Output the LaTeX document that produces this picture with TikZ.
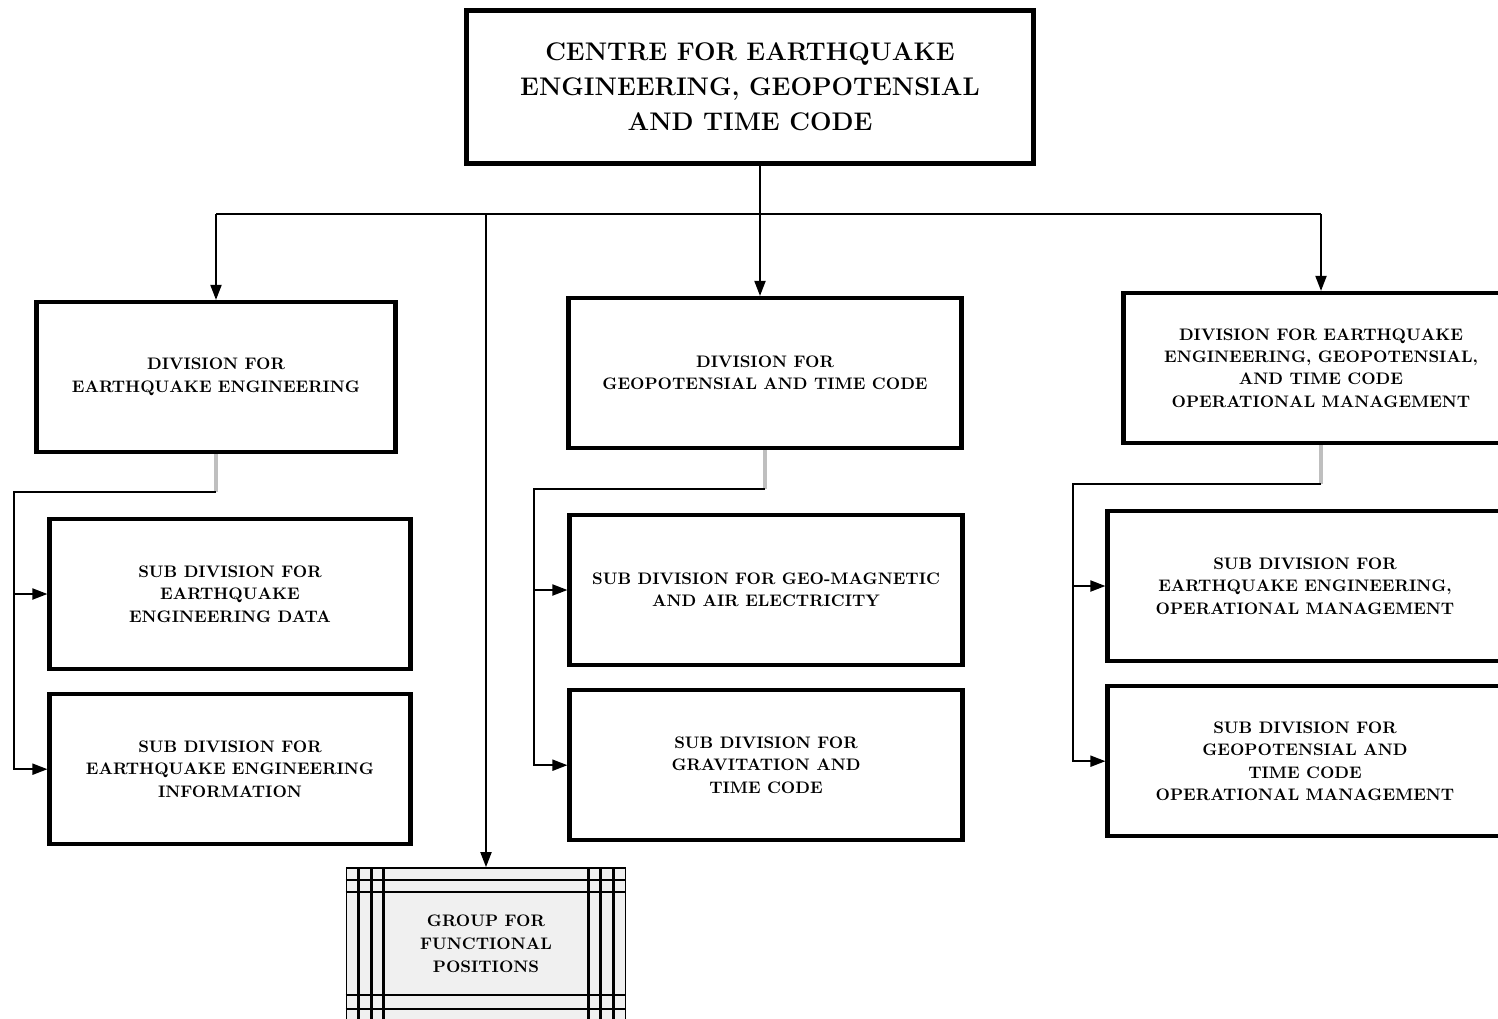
\documentclass[tikz,border=0pt]{standalone}
\usepackage{tikz}
\usetikzlibrary{calc,arrows.meta,positioning}

\begin{document}
\begin{tikzpicture}
			[x=0.02cm,y=-0.02cm,
			centre/.style={draw,line width=2.4pt,minimum width=11.34cm,minimum height=3.06cm,align=center,font=\fontsize{14.5}{20}\selectfont\bfseries},
			unit/.style={draw,line width=2.4pt,minimum height=3cm,align=center,font=\fontsize{9.5}{12.8}\selectfont\bfseries},
			group/.style={draw,line width=1pt,fill=gray!12,minimum width=5.58cm,minimum height=3.04cm,align=center,font=\fontsize{9.5}{13}\selectfont\bfseries},
			link/.style={line width=1.1pt},
			arr/.style={link,-{Triangle[length=0.3cm,width=0.22cm]}},
			stem/.style={line width=2pt,draw=gray!50},
			frame/.style={line width=1.4pt},
			]
			\useasboundingbox (0,0) rectangle (1498,1018);
			\clip (0,0) rectangle (1498,1018);
			% top and divisions
			\node (top) [centre] at (750,87) {CENTRE FOR EARTHQUAKE\\ENGINEERING, GEOPOTENSIAL\\AND TIME CODE};
			\node (d1) [unit,minimum width=7.18cm] at (216,377) {DIVISION FOR\\EARTHQUAKE ENGINEERING};
			\node (d2) [unit,minimum width=7.86cm] at (765,373) {DIVISION FOR\\GEOPOTENSIAL AND TIME CODE};
			\node (d3) [unit,minimum width=7.9cm] at (1321,368) {DIVISION FOR EARTHQUAKE\\ENGINEERING, GEOPOTENSIAL,\\AND TIME CODE\\OPERATIONAL MANAGEMENT};
			% sub divisions
			\node (s11) [unit,minimum width=7.22cm] at (230,594) {SUB DIVISION FOR\\EARTHQUAKE\\ENGINEERING DATA};
			\node (s12) [unit,minimum width=7.22cm,below=0.42cm of s11] {SUB DIVISION FOR\\EARTHQUAKE ENGINEERING\\INFORMATION};
			\node (s21) [unit,minimum width=7.86cm] at (766,590) {SUB DIVISION FOR GEO-MAGNETIC\\AND AIR ELECTRICITY};
			\node (s22) [unit,minimum width=7.86cm,below=0.42cm of s21] {SUB DIVISION FOR\\GRAVITATION AND\\TIME CODE};
			\node (s31) [unit,minimum width=7.9cm] at (1305,586) {SUB DIVISION FOR\\EARTHQUAKE ENGINEERING,\\OPERATIONAL MANAGEMENT};
			\node (s32) [unit,minimum width=7.9cm,below=0.42cm of s31] {SUB DIVISION FOR\\GEOPOTENSIAL AND\\TIME CODE\\OPERATIONAL MANAGEMENT};
			% group for functional positions
			\node (grp) [group] at (486,944) {GROUP FOR\\FUNCTIONAL\\POSITIONS};
			\foreach \dx in {13,26,38}
				{\draw[frame] ($(grp.north west)+(\dx,0)$) -- ($(grp.south west)+(\dx,0)$);
				\draw[frame] ($(grp.north east)+(-\dx,0)$) -- ($(grp.south east)+(-\dx,0)$);}
			\foreach \dy in {13,25}
				{\draw[frame] ($(grp.north west)+(0,\dy)$) -- ($(grp.north east)+(0,\dy)$);}
			\foreach \dy in {26,12}
				{\draw[frame] ($(grp.south west)+(0,-\dy)$) -- ($(grp.south east)+(0,-\dy)$);}
			% connectors
			\coordinate (hub) at (760,214);
			\draw[link] (d1.north |- hub) -- (d3.north |- hub);
			\draw[arr] (d1.north |- hub) -- (d1.north);
			\draw[arr] (top.south -| hub) -- (d2.north -| hub);
			\draw[arr] (d3.north |- hub) -- (d3.north);
			\draw[arr] (grp.north |- hub) -- (grp.north);
			\coordinate (l1) at (14,492);
			\coordinate (l2) at (534,489);
			\coordinate (l3) at (1073,484);
			\draw[stem] (d1.south) -- (d1.south |- l1);
			\draw[stem] (d2.south) -- (d2.south |- l2);
			\draw[stem] (d3.south) -- (d3.south |- l3);
			\draw[arr] (d1.south |- l1) -- (l1) |- (s12.west);
			\draw[arr] (l1 |- s11.west) -- (s11.west);
			\draw[arr] (d2.south |- l2) -- (l2) |- (s22.west);
			\draw[arr] (l2 |- s21.west) -- (s21.west);
			\draw[arr] (d3.south |- l3) -- (l3) |- (s32.west);
			\draw[arr] (l3 |- s31.west) -- (s31.west);
\end{tikzpicture}
\end{document}
